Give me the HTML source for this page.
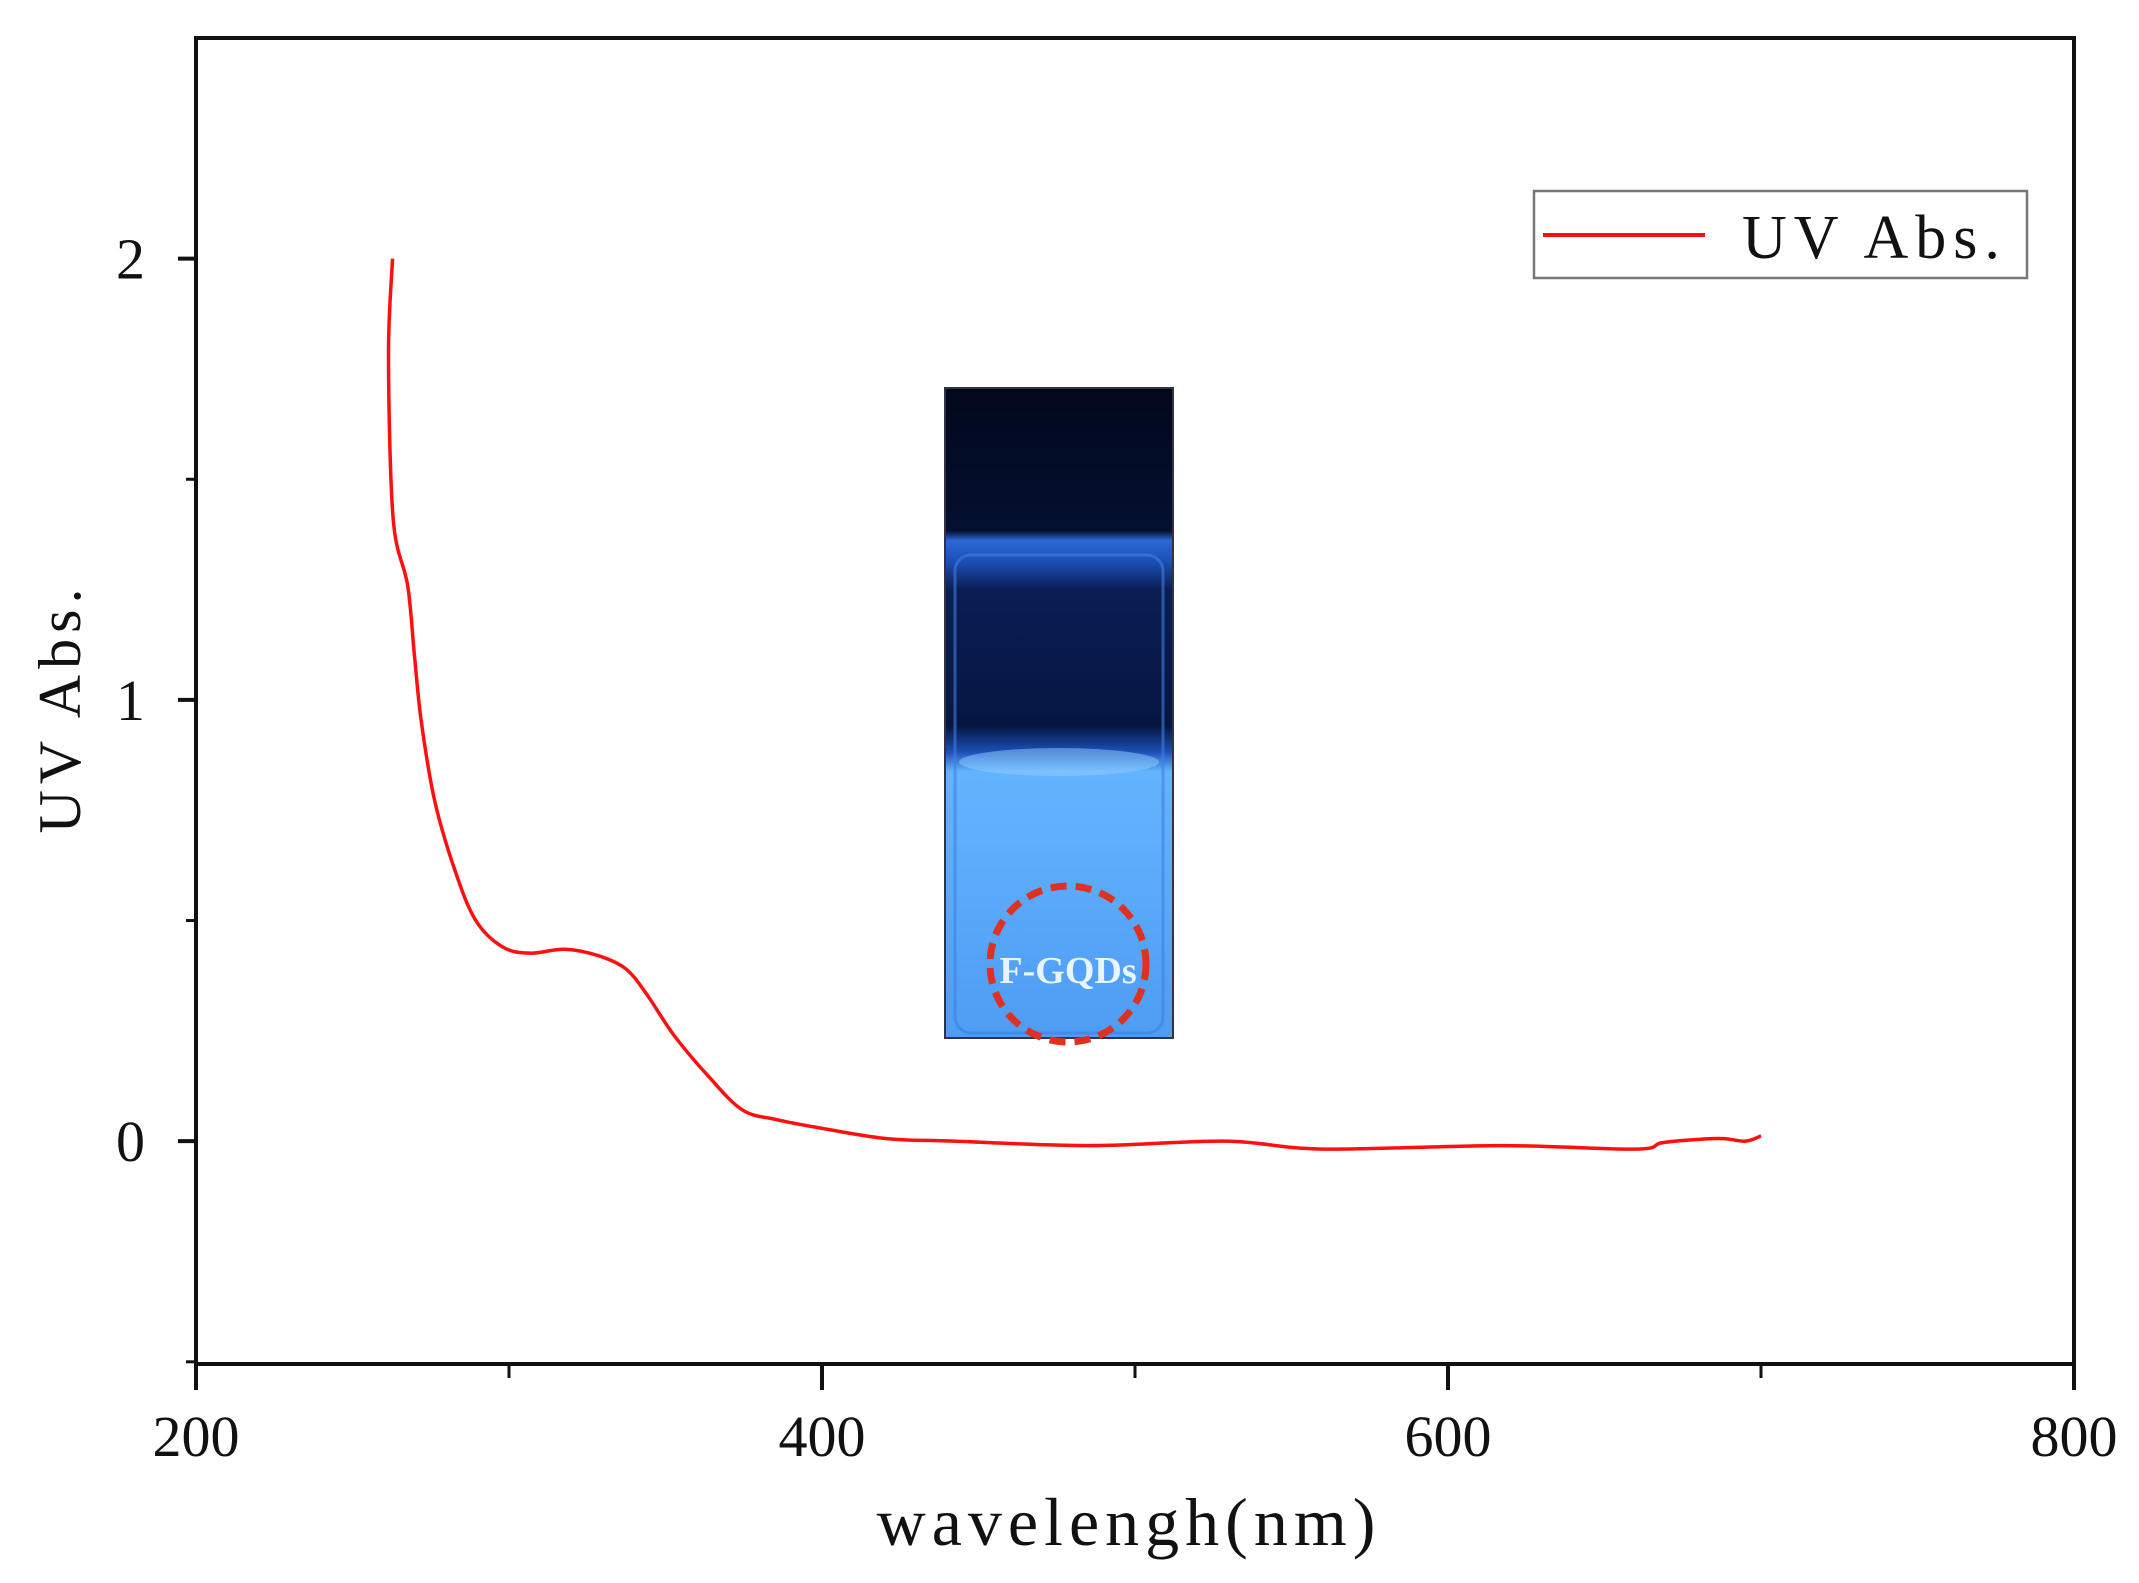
<!DOCTYPE html>
<html><head><meta charset="utf-8"><style>
html,body{margin:0;padding:0;background:#fff}
svg{display:block}
text{font-family:"Liberation Serif","Noto Serif CJK SC",serif;fill:#111}
</style></head><body>
<svg id="chart" width="2139" height="1583" viewBox="0 0 2139 1583" xmlns="http://www.w3.org/2000/svg">
<defs>
<linearGradient id="vialG" x1="0" y1="0" x2="0" y2="1">
<stop offset="0" stop-color="#02081c"/>
<stop offset="0.22" stop-color="#041030"/>
<stop offset="0.235" stop-color="#2a6ad8"/>
<stop offset="0.27" stop-color="#1a4cb0"/>
<stop offset="0.31" stop-color="#0a1e55"/>
<stop offset="0.52" stop-color="#061642"/>
<stop offset="0.56" stop-color="#1d4fb8"/>
<stop offset="0.59" stop-color="#63b4ff"/>
<stop offset="1" stop-color="#4f9cf4"/>
</linearGradient>
</defs>
<g id="plot"></g>
</svg>
<script>
const wavelengths=[262.8,261.5,263,267.6,269.8,272,276.3,282.9,289.4,298,306.9,317.8,328.7,337.4,344,352.7,363.6,374.5,385.4,398.5,420.3,442,485.7,529,560,616.6,660,668.9,686.3,695,700];
const absorbance=[2.0,1.78,1.41,1.26,1.10,0.95,0.77,0.61,0.50,0.44,0.426,0.435,0.42,0.39,0.333,0.24,0.148,0.071,0.049,0.031,0.006,0,-0.01,0,-0.018,-0.01,-0.018,-0.003,0.006,0,0.012];
const xTickLabels=["200","400","600","800"];
const xMajor=[200,400,600,800];
const xMinor=[300,500,700];
const yMajor=[0,1,2];
const yTickLabels=["0","1","2"];
const yMinor=[-0.5,0.5,1.5];

const L=196,R=2074,T=38,B=1364;
const xMin=200,xMax=800,yMin=-0.505,yMax=2.5;
const sx=v=>L+(v-xMin)/(xMax-xMin)*(R-L);
const sy=v=>B-(v-yMin)/(yMax-yMin)*(B-T);
const NS="http://www.w3.org/2000/svg";
const g=document.getElementById('plot');
function mk(tag,attrs,parent){const e=document.createElementNS(NS,tag);for(const k in attrs)e.setAttribute(k,attrs[k]);(parent||g).appendChild(e);return e;}

let fr=mk('rect',{x:L,y:T,width:R-L,height:B-T,fill:'none',stroke:'#111','stroke-width':4});



const vg=mk('g',{});


mk('rect',{x:945,y:388,width:228,height:650,fill:'url(#vialG)',stroke:'#334',"stroke-width":2},vg);
mk('rect',{x:955,y:555,width:208,height:478,rx:16,fill:'none',stroke:'#3f7fe0','stroke-width':3,opacity:0.6},vg);
mk('ellipse',{cx:1059,cy:762,rx:100,ry:14,fill:'#8fd0ff',opacity:0.5},vg);
mk('circle',{cx:1068,cy:964,r:78,fill:'none',stroke:'#e03020','stroke-width':7,'stroke-dasharray':'16 9'},vg);
const vt=mk('text',{x:1068,y:983,'text-anchor':'middle','font-size':38,'font-weight':'bold',style:'fill:#e8f4ff'},vg);
vt.textContent='F-GQDs';

xMajor.forEach((v,i)=>{
  let t=mk('line',{x1:sx(v),x2:sx(v),y1:B,y2:B+26,stroke:'#111','stroke-width':4});
  
  
  let tx=mk('text',{x:sx(v),y:1456,'text-anchor':'middle','font-size':58});
  tx.textContent=xTickLabels[i];
  
  
});
xMinor.forEach(v=>{
  let t=mk('line',{x1:sx(v),x2:sx(v),y1:B,y2:B+14,stroke:'#111','stroke-width':3});
  
  
});
yMajor.forEach((v,i)=>{
  let t=mk('line',{x1:L-18,x2:L,y1:sy(v),y2:sy(v),stroke:'#111','stroke-width':4});
  
  
  let tx=mk('text',{x:145,y:sy(v)+20,'text-anchor':'end','font-size':58});
  tx.textContent=yTickLabels[i];
  
  
});
yMinor.forEach(v=>{
  let t=mk('line',{x1:L-10,x2:L,y1:sy(v),y2:sy(v),stroke:'#111','stroke-width':3});
  
  
});

let xt=mk('text',{x:1129,y:1545,'text-anchor':'middle','font-size':68,'letter-spacing':'6'});
xt.textContent='wavelengh(nm)';


let yt=mk('text',{x:0,y:0,'text-anchor':'middle','font-size':60,'letter-spacing':'6',transform:'translate(80,708) rotate(-90)'});
yt.textContent='UV Abs.';



const pts=wavelengths.map((w,i)=>[sx(w),sy(absorbance[i])]);
let d='M'+pts[0][0]+','+pts[0][1];
for(let i=0;i<pts.length-1;i++){
  const p0=pts[Math.max(0,i-1)],p1=pts[i],p2=pts[i+1],p3=pts[Math.min(pts.length-1,i+2)];
  const c1=[p1[0]+(p2[0]-p0[0])/6,p1[1]+(p2[1]-p0[1])/6];
  const c2=[p2[0]-(p3[0]-p1[0])/6,p2[1]-(p3[1]-p1[1])/6];
  d+=' C'+c1[0]+','+c1[1]+' '+c2[0]+','+c2[1]+' '+p2[0]+','+p2[1];
}
let ln=mk('path',{d:d,fill:'none',stroke:'#ff1010','stroke-width':3.5,'stroke-linejoin':'round'});



const lg=mk('g',{});


mk('rect',{x:1534,y:191,width:493,height:87,fill:'#fff',stroke:'#777','stroke-width':2.5},lg);
let ls=mk('line',{x1:1543,x2:1705,y1:235,y2:235,stroke:'#ff1010','stroke-width':4},lg);


let lt=mk('text',{x:1742,y:258,'font-size':62,'letter-spacing':'7'},lg);
lt.textContent='UV Abs.';


</script>
</body></html>
